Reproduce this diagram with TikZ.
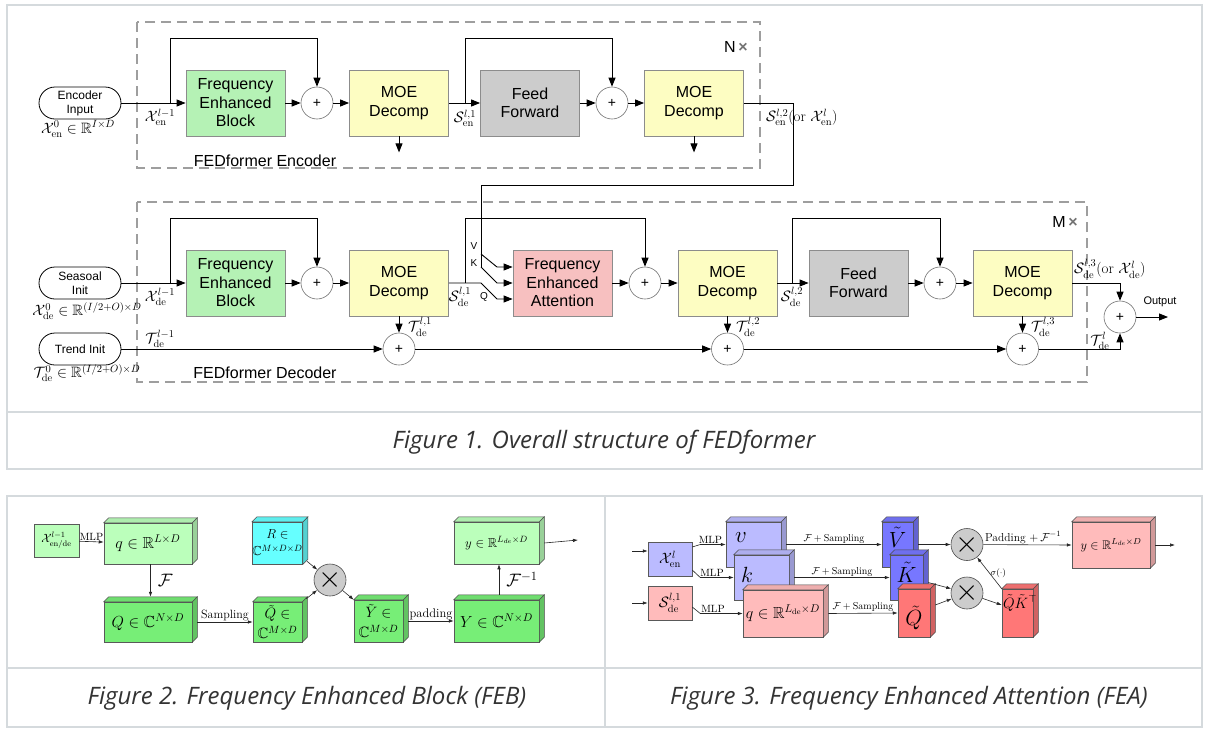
\RequirePackage{fix-cm}
\documentclass[tikz,border=0pt]{standalone}
\usepackage{amsmath,amssymb}
\usepackage{fontspec}
\setsansfont{Liberation Sans}
\newfontfamily\capfont{Open Sans}
\usetikzlibrary{arrows.meta, positioning, calc}

\definecolor{febgreen}{HTML}{B5F2B5}
\definecolor{moeyellow}{HTML}{FDFDC2}
\definecolor{ffgray}{HTML}{CCCCCC}
\definecolor{feapink}{HTML}{F7C0C0}
\definecolor{lgreen}{HTML}{BBFFBB}
\definecolor{mgreen}{HTML}{77EE77}
\definecolor{rcyan}{HTML}{66FFFF}
\definecolor{lblue}{HTML}{BBBBFF}
\definecolor{dblue}{HTML}{7777FF}
\definecolor{lred}{HTML}{FFBBBB}
\definecolor{dred}{HTML}{FF7777}
\definecolor{panelgray}{HTML}{D5DADD}
\definecolor{capgray}{HTML}{333333}

% top and side faces of a box drawn as a cube
\newcommand{\cubefaces}[2]{%
  \filldraw[fill=#2!82!black, draw=black!70, line width=0.5pt]
    (#1.north east) -- ++(5pt,5pt) -- ([shift={(5pt,5pt)}]#1.south east) -- (#1.south east) -- cycle;
  \filldraw[fill=#2!93!black, draw=black!70, line width=0.5pt]
    (#1.north west) -- ++(5pt,5pt) -- ([shift={(5pt,5pt)}]#1.north east) -- (#1.north east) -- cycle;
}

\begin{document}
\begin{tikzpicture}[x=1pt, y=-1pt,
    block/.style={draw=black!45, line width=0.8pt, minimum width=99pt, minimum height=66pt,
      inner sep=0pt, align=center, font=\sffamily\fontsize{16}{18.5}\selectfont},
    adder/.style={circle, draw=black!55, line width=0.6pt, fill=white, minimum size=32pt,
      inner sep=0pt, font=\sffamily\fontsize{14}{14}\selectfont},
    inbox/.style={draw, line width=0.8pt, rounded corners=16pt, minimum width=82pt,
      minimum height=32pt, align=center, inner sep=0pt, font=\sffamily\fontsize{12}{14}\selectfont},
    arrow/.style={-{Triangle[length=9pt,width=7pt]}, line width=0.9pt},
    link/.style={line width=0.9pt},
    stackbox/.style={draw=black!38, line width=1.8pt, dash pattern=on 10pt off 6pt},
    mathlab/.style={font=\fontsize{15}{17}\selectfont, inner sep=0pt},
    txtlab/.style={font=\sffamily\fontsize{11}{13}\selectfont, inner sep=0pt},
    flatbox/.style={draw=black!65, line width=0.5pt, inner sep=0pt, font=\fontsize{12}{13}\selectfont},
    cubebox/.style={flatbox, align=center, font=\fontsize{16}{17}\selectfont},
    mul/.style={circle, draw=black!70, fill=black!20, minimum size=32pt, inner sep=0pt,
      line width=0.6pt, font=\fontsize{30}{30}\selectfont},
    tip/.style={-{Latex[length=5pt,width=3.5pt]}, line width=0.6pt, draw=black!85},
    edgelab/.style={font=\fontsize{10.5}{11}\selectfont, inner sep=1pt},
    panel/.style={draw=panelgray, line width=1.2pt},
    figcap/.style={font=\capfont\itshape\fontsize{24}{26}\selectfont, text=capgray}
]
\fill[white] (0,0) rectangle (1210,734);
\useasboundingbox (0,0) rectangle (1210,734);

% panels
\draw[panel] (7,5) rectangle (1202,469);
\draw[panel] (7,412) -- (1202,412);
\draw[panel] (7,496) rectangle (1202,727);
\draw[panel] (7,668) -- (1202,668);
\draw[panel] (605,496) -- (605,727);
\node[figcap] (cap1) at (604,442) {Figure 1. Overall structure of FEDformer};
\node[figcap] (cap2) at (307,698) {Figure 2. Frequency Enhanced Block (FEB)};
\node[figcap] (cap3) at (909,698) {Figure 3. Frequency Enhanced Attention (FEA)};

% ---------------- Figure 1 ----------------
\draw[stackbox] (137,22) rectangle (760,168);
\draw[stackbox] (137,202) rectangle (1087,382);
\node[font=\sffamily\fontsize{16}{16}\selectfont] (nrep) at (736,47) {N\,{\color{black!55}\bfseries ×}};
\node[font=\sffamily\fontsize{16}{16}\selectfont] (mrep) at (1065,222) {M\,{\color{black!55}\bfseries ×}};
\node[font=\sffamily\fontsize{16}{16}\selectfont] (enclab) at (265,161) {FEDformer Encoder};
\node[font=\sffamily\fontsize{16}{16}\selectfont] (declab) at (265,373) {FEDformer Decoder};

% encoder
\node[inbox] (encin) at (80,103) {Encoder\\Input};
\node[block, fill=febgreen] (feb1) at (235.5,103) {Frequency\\Enhanced\\Block};
\node[adder] (p1) at (317,103) {+};
\node[block, fill=moeyellow] (moe1) at (399,103) {MOE\\Decomp};
\node[block, fill=ffgray] (ff1) at (530,103) {Feed\\Forward};
\node[adder] (p2) at (612,103) {+};
\node[block, fill=moeyellow] (moe2) at (694,103) {MOE\\Decomp};

\coordinate (e1) at (170,103);
\coordinate (e2) at (465,103);
\draw[arrow] (encin) -- (feb1);
\draw[arrow] (feb1) -- (p1);
\draw[arrow] (p1) -- (moe1);
\draw[arrow] (moe1.south) -- ++(0,16);
\draw[arrow] (moe1) -- (ff1);
\draw[arrow] (ff1) -- (p2);
\draw[arrow] (p2) -- (moe2);
\draw[arrow] (moe2.south) -- ++(0,16);
\draw[arrow] (e1) -- ++(0,-65) -| (p1);
\draw[arrow] (e2) -- ++(0,-65) -| (p2);

\node[mathlab] (xen0) at (78,129) {$\mathcal{X}^0_{\mathrm{en}}\in\mathbb{R}^{I\times D}$};
\node[mathlab] (xenl) at (160,117) {$\mathcal{X}^{l-1}_{\mathrm{en}}$};
\node[mathlab] (sen1) at (465,118) {$\mathcal{S}^{l,1}_{\mathrm{en}}$};
\node[mathlab, anchor=west] (sen2) at (766,117) {$\mathcal{S}^{l,2}_{\mathrm{en}}$(or $\mathcal{X}^{l}_{\mathrm{en}}$)};

% decoder
\node[inbox] (seas) at (80,283) {Seasoal\\Init};
\node[inbox] (trend) at (80,349) {Trend Init};
\node[block, fill=febgreen] (feb2) at (235.5,283) {Frequency\\Enhanced\\Block};
\node[adder] (p3) at (317,283) {+};
\node[block, fill=moeyellow] (moe3) at (399,283) {MOE\\Decomp};
\node[adder] (t1) at (399,349) {+};
\node[block, fill=feapink] (fea) at (562.5,283) {Frequency\\Enhanced\\Attention};
\node[adder] (p4) at (645,283) {+};
\node[block, fill=moeyellow] (moe4) at (727.5,283) {MOE\\Decomp};
\node[adder] (t2) at (727.5,349) {+};
\node[block, fill=ffgray] (ff2) at (858.5,283) {Feed\\Forward};
\node[adder] (p5) at (940,283) {+};
\node[block, fill=moeyellow] (moe5) at (1022.5,283) {MOE\\Decomp};
\node[adder] (t3) at (1022.5,349) {+};
\node[adder] (pout) at (1120,317) {+};

\coordinate (d1) at (170,283);
\coordinate (d2) at (465,283);
\coordinate (d3) at (792,283);
\coordinate (eout) at (793,185);
\coordinate (vbr) at (481,254);
\coordinate (kbr) at (481,267);
\coordinate (qbr) at (481,283);
\coordinate (out) at (1168,317);

\draw[arrow] (seas) -- (feb2);
\draw[arrow] (feb2) -- (p3);
\draw[arrow] (p3) -- (moe3);
\draw[arrow] (moe3) -- (t1);
\draw[arrow] (trend) -- (t1);
\draw[link] (moe2.east) -| (eout) -| (kbr);
\draw[arrow] (vbr) -- ++(16,13) -- ([yshift=16pt]fea.west);
\draw[arrow] (kbr) -- ++(16,16) -- (fea.west);
\draw[arrow] (moe3.east) -- (qbr) -- ++(16,16) -- ([yshift=-16pt]fea.west);
\draw[arrow] (fea) -- (p4);
\draw[arrow] (p4) -- (moe4);
\draw[arrow] (moe4) -- (t2);
\draw[arrow] (t1) -- (t2);
\draw[arrow] (moe4) -- (ff2);
\draw[arrow] (ff2) -- (p5);
\draw[arrow] (p5) -- (moe5);
\draw[arrow] (moe5) -- (t3);
\draw[arrow] (t2) -- (t3);
\draw[arrow] (t3) -| (pout);
\draw[arrow] (moe5) -| (pout);
\draw[arrow] (pout) -- (out);
\draw[arrow] (d1) -- ++(0,-65) -| (p3);
\draw[arrow] (d2) -- ++(0,-65) -| (p4);
\draw[arrow] (d3) -- ++(0,-65) -| (p5);

\node[txtlab, font=\sffamily\fontsize{10}{10}\selectfont] (vlab) at (474,246) {V};
\node[txtlab, font=\sffamily\fontsize{10}{10}\selectfont] (klab) at (474,263) {K};
\node[txtlab, font=\sffamily\fontsize{10}{10}\selectfont] (qlab) at (484,297) {Q};
\node[txtlab] (outlab) at (1160,302) {Output};
\node[mathlab] (xde0) at (87,311) {$\mathcal{X}^0_{\mathrm{de}}\in\mathbb{R}^{(I/2+O)\times D}$};
\node[mathlab] (tde0) at (87,373) {$\mathcal{T}^0_{\mathrm{de}}\in\mathbb{R}^{(I/2+O)\times D}$};
\node[mathlab] (xdel) at (160,297) {$\mathcal{X}^{l-1}_{\mathrm{de}}$};
\node[mathlab] (tdel) at (160,339) {$\mathcal{T}^{l-1}_{\mathrm{de}}$};
\node[mathlab] (sde1) at (460,297) {$\mathcal{S}^{l,1}_{\mathrm{de}}$};
\node[mathlab] (tde1) at (420,327) {$\mathcal{T}^{l,1}_{\mathrm{de}}$};
\node[mathlab] (sde2) at (792,297) {$\mathcal{S}^{l,2}_{\mathrm{de}}$};
\node[mathlab] (tde2) at (748,327) {$\mathcal{T}^{l,2}_{\mathrm{de}}$};
\node[mathlab] (tde3) at (1043,327) {$\mathcal{T}^{l,3}_{\mathrm{de}}$};
\node[mathlab, anchor=west] (sde3) at (1074,269) {$\mathcal{S}^{l,3}_{\mathrm{de}}$(or $\mathcal{X}^{l}_{\mathrm{de}}$)};
\node[mathlab] (tdel2) at (1100,341) {$\mathcal{T}^{l}_{\mathrm{de}}$};

% ---------------- Figure 2 ----------------
\node[flatbox, fill=lgreen, minimum width=45pt, minimum height=33pt] (xin) at (56.5,540.5) {$\mathcal{X}^{l-1}_{\mathrm{en/de}}$};
\node[cubebox, fill=lgreen, minimum width=88pt, minimum height=41pt] (qf) at (148,543.5) {$q\in\mathbb{R}^{L\times D}$};
\cubefaces{qf}{lgreen}
\node[cubebox, fill=mgreen, minimum width=88pt, minimum height=40pt] (Qf) at (148,622) {$Q\in\mathbb{C}^{N\times D}$};
\cubefaces{Qf}{mgreen}
\node[cubebox, fill=rcyan, minimum width=49pt, minimum height=42pt, font=\fontsize{13}{15}\selectfont] (Rf) at (277.5,543) {$R\in$\\[2pt]$\mathbb{C}^{M\times D\times D}$};
\cubefaces{Rf}{rcyan}
\node[cubebox, fill=mgreen, minimum width=49pt, minimum height=40pt, font=\fontsize{15}{17}\selectfont] (Qtf) at (277.5,622) {$\tilde{Q}\in$\\[3pt]$\mathbb{C}^{M\times D}$};
\cubefaces{Qtf}{mgreen}
\node[mul] (mulf) at (330,580) {$\times$};
\node[cubebox, fill=mgreen, minimum width=49pt, minimum height=42pt, font=\fontsize{15}{17}\selectfont] (Ytf) at (378.5,621) {$\tilde{Y}\in$\\[3pt]$\mathbb{C}^{M\times D}$};
\cubefaces{Ytf}{mgreen}
\node[cubebox, fill=mgreen, minimum width=85pt, minimum height=42pt] (Yf) at (496.5,621) {$Y\in\mathbb{C}^{N\times D}$};
\cubefaces{Yf}{mgreen}
\node[cubebox, fill=lgreen, minimum width=85pt, minimum height=42pt, font=\fontsize{13}{14}\selectfont] (yf) at (496.5,543) {$y\in\mathbb{R}^{L_{de}\times D}$};
\cubefaces{yf}{lgreen}
\coordinate (fout) at (578,540);

\draw[tip] (xin) -- node[edgelab, above] (mlpf) {MLP} (qf);
\draw[tip] ([xshift=2.5pt]qf.south) -- node[edgelab, right=6pt, font=\fontsize{18}{18}\selectfont] (ff) {$\mathcal{F}$} ([shift={(2.5pt,5pt)}]Qf.north);
\draw[tip] ([xshift=5pt]Qf.east) -- node[edgelab, above, font=\fontsize{12}{13}\selectfont] (samp) {Sampling} (Qtf.west);
\draw[tip] ([xshift=4pt,yshift=3pt]Rf.south east) -- (mulf);
\draw[tip] ([xshift=4pt,yshift=3pt]Qtf.north east) -- (mulf);
\draw[tip] (mulf) -- (Ytf.north west);
\draw[tip] ([xshift=5pt]Ytf.east) -- node[edgelab, above, font=\fontsize{12.5}{13}\selectfont] (pad) {padding} (Yf.west);
\draw[tip] ([shift={(2.5pt,5pt)}]Yf.north) -- node[edgelab, right=6pt, font=\fontsize{18}{18}\selectfont] (fi) {$\mathcal{F}^{-1}$} ([xshift=2.5pt]yf.south);
\draw[tip] ([xshift=5pt]yf.east) -- (fout);

% ---------------- Figure 3 ----------------
\coordinate (xa) at (632,551);
\coordinate (sa) at (632,603);
\coordinate (aout) at (1175,545);
\node[flatbox, fill=lblue, minimum width=44pt, minimum height=34pt, font=\fontsize{15}{15}\selectfont] (xenf) at (670,559) {$\mathcal{X}^{l}_{\mathrm{en}}$};
\node[flatbox, fill=lred, minimum width=44pt, minimum height=34pt, font=\fontsize{15}{15}\selectfont] (sdef) at (670,603) {$\mathcal{S}^{l,1}_{\mathrm{de}}$};
\node[cubebox, fill=lblue, minimum width=55pt, minimum height=45pt] (vf) at (753.5,544.5) {};
\cubefaces{vf}{lblue}
\node[font=\fontsize{23}{23}\selectfont] (vtx) at (741,538) {$v$};
\node[cubebox, fill=lblue, minimum width=55pt, minimum height=45pt] (kf) at (761.5,577.5) {};
\cubefaces{kf}{lblue}
\node[font=\fontsize{22}{22}\selectfont] (ktx) at (747,575) {$k$};
\node[cubebox, fill=lred, minimum width=80pt, minimum height=47pt] (qa) at (783,613.5) {$q\in\mathbb{R}^{L_{\mathrm{de}}\times D}$};
\cubefaces{qa}{lred}
\node[cubebox, fill=dblue, minimum width=31pt, minimum height=45pt] (Vt) at (897.5,544.5) {};
\cubefaces{Vt}{dblue}
\node[font=\fontsize{22}{22}\selectfont, inner sep=0pt] (vttx) at (897.5,537) {$\tilde{V}$};
\node[cubebox, fill=dblue, minimum width=33pt, minimum height=45pt] (Kt) at (906.5,577.5) {};
\cubefaces{Kt}{dblue}
\node[font=\fontsize{22}{22}\selectfont, inner sep=0pt] (kttx) at (906.5,572) {$\tilde{K}$};
\node[cubebox, fill=dred, minimum width=32pt, minimum height=48pt] (Qt) at (914,613) {};
\cubefaces{Qt}{dred}
\node[font=\fontsize{22}{22}\selectfont, inner sep=0pt] (qttx) at (914,618) {$\tilde{Q}$};
\node[mul] (mul1) at (967,544.5) {$\times$};
\node[mul] (mul2) at (967,593) {$\times$};
\node[cubebox, fill=dred, minimum width=31pt, minimum height=48pt] (QK) at (1017.5,613) {};
\cubefaces{QK}{dred}
\node[font=\fontsize{15}{15}\selectfont, inner sep=0pt] (qktx) at (1020,603) {$\tilde{Q}\tilde{K}^{\top}$};
\node[cubebox, fill=lred, minimum width=78pt, minimum height=46pt, font=\fontsize{12.5}{14}\selectfont] (ya) at (1111,545) {$y\in\mathbb{R}^{L_{de}\times D}$};
\cubefaces{ya}{lred}

\draw[tip] (xa) -- (xa -| xenf.west);
\draw[tip] (sa) -- (sdef);
\draw[tip] ([yshift=12pt]xenf.east) -- ++(8,-2.5) -- node[edgelab, above, pos=0.4] (mlp1) {MLP} (vf.west);
\draw[tip] ([yshift=-11pt]xenf.east) -- ++(8,7.5) -- node[edgelab, above, pos=0.35] (mlp2) {MLP} (kf.west);
\draw[tip] ([yshift=-4pt]sdef.east) -- ++(8,6.5) -- node[edgelab, above, pos=0.3] (mlp3) {MLP} (qa.west);
\draw[tip] ([xshift=5pt]vf.east) -- node[edgelab, above, font=\fontsize{10}{11}\selectfont] (fs1) {$\mathcal{F}+\text{Sampling}$} (Vt.west);
\draw[tip] ([xshift=5pt]kf.east) -- node[edgelab, above, font=\fontsize{10}{11}\selectfont] (fs2) {$\mathcal{F}+\text{Sampling}$} (Kt.west);
\draw[tip] ([xshift=5pt]qa.east) -- node[edgelab, above, font=\fontsize{10}{11}\selectfont] (fs3) {$\mathcal{F}+\text{Sampling}$} (Qt.west);
\draw[tip] ([xshift=5pt]Vt.east) -- (mul1);
\draw[tip] ([xshift=5pt,yshift=-5pt]Kt.east) -- (mul2);
\draw[tip] ([xshift=5pt,yshift=8pt]Qt.east) -- (mul2);
\draw[tip] (mul2) -- ([yshift=8pt]QK.west);
\draw[tip] (QK.north west) -- node[edgelab, right, font=\fontsize{9}{10}\selectfont] (sig) {$\sigma(\cdot)$} (mul1);
\draw[tip] (mul1) -- node[edgelab, above, pos=0.45, font=\fontsize{11.5}{12}\selectfont] (padf) {Padding $+\,\mathcal{F}^{-1}$} (ya.west);
\draw[tip] ([xshift=5pt]ya.east) -- (aout);
\end{tikzpicture}
\end{document}
